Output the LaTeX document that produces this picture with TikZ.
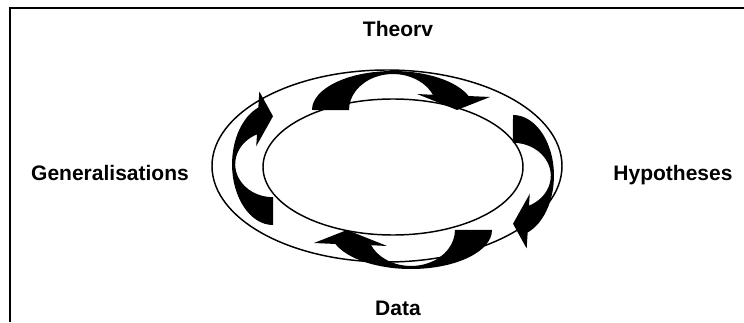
\documentclass[tikz,border=0pt]{standalone}
\usepackage{fontspec}
\setmainfont{Liberation Sans}
\usepackage{tikz}

% one curved block arrow, drawn lying flat with its head at the right
\newcommand{\cyclearrow}{%
  \fill (0,0) arc[start angle=180,end angle=21,x radius=81,y radius=39]
    -- (178,13) -- (145,0) -- (105,16) -- (120.9,15.2)
    arc[start angle=25,end angle=180,x radius=44,y radius=36] -- cycle;}

\begin{document}
\begin{tikzpicture}[x=0.75pt,y=0.75pt,
    stage/.style={font=\bfseries\fontsize{15.75}{18}\selectfont,inner sep=0pt,anchor=base},
    ring/.style={line width=1.1pt}]
  \useasboundingbox (0,0) rectangle (744,322);
  \draw[line width=1.5pt] (10,0) -- (10,314) -- (744,314);
  \draw[ring] (387,156) ellipse[x radius=175,y radius=96];
  \draw[ring] (393,155) ellipse[x radius=130,y radius=68];
  % the four arrows round the cycle
  \begin{scope}[shift={(312,212)}] \cyclearrow \end{scope}
  \begin{scope}[shift={(513,207)},rotate=-90,xscale=0.75,yscale=1.05] \cyclearrow \end{scope}
  \begin{scope}[shift={(492,92)},rotate=180] \cyclearrow \end{scope}
  \begin{scope}[shift={(273,97)},rotate=90,xscale=0.75,yscale=1.05] \cyclearrow \end{scope}
  \node[stage] (theory) at (398,285) {Theorv};
  \node[stage] (hypo) at (673,142) {Hypotheses};
  \node[stage] (data) at (398,7) {Data};
  \node[stage] (gen) at (110,142) {Generalisations};
\end{tikzpicture}
\end{document}
